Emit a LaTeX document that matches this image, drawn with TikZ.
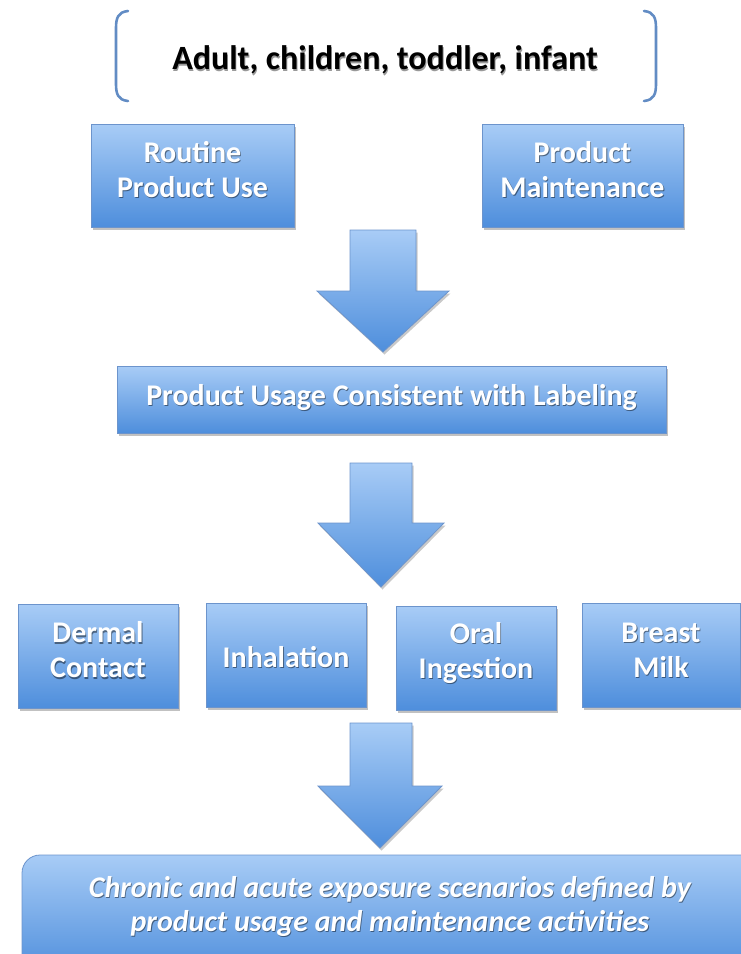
\documentclass[tikz,border=0pt]{standalone}
\usepackage{fontspec}
\setmainfont{Carlito}
\usetikzlibrary{shadows}

\definecolor{boxtop}{RGB}{168,204,246}
\definecolor{boxbot}{RGB}{78,142,220}
\definecolor{boxline}{RGB}{108,148,204}
\definecolor{bracecol}{RGB}{98,140,196}

\tikzset{
  blockbox/.style={draw=boxline, line width=0.8pt, top color=boxtop, bottom color=boxbot,
    drop shadow={shadow xshift=1.5pt, shadow yshift=-2.5pt, opacity=0.35, fill=black!70},
    inner sep=0pt},
  boxtext/.style={text=white, font=\fontsize{30}{35}\selectfont\bfseries, align=center, inner sep=0pt},
  textshade/.style={text=black, opacity=0.45},
  blockarrow/.style={draw=boxline, line width=0.8pt, top color=boxtop, bottom color=boxbot,
    drop shadow={shadow xshift=1.5pt, shadow yshift=-2.5pt, opacity=0.3, fill=black!70}},
  bracket/.style={draw=bracecol, line width=2.6pt, line cap=round},
}

% box with white shaded label: name, centre, width, height, label offset, text
\newcommand\labelbox[6]{%
  \node[blockbox, minimum width=#3, minimum height=#4] (#1) at #2 {};
  \node[boxtext, textshade] (#1-sh) at ([shift={(0.8,#5+1.3)}]#1.center) {#6};
  \node[boxtext] (#1-t) at ([shift={(0,#5)}]#1.center) {#6};
}

\begin{document}
\begin{tikzpicture}[x=1pt,y=-1pt]
\useasboundingbox (0,0) rectangle (740,954);

% population bracket
\draw[bracket] (128,11) .. controls (118,12) and (116,18) .. (116,28) -- (116,84)
  .. controls (116,94) and (118,100) .. (128,101);
\draw[bracket] (644,11) .. controls (654,12) and (656,18) .. (656,28) -- (656,84)
  .. controls (656,94) and (654,100) .. (644,101);
\node[font=\fontsize{34}{40}\selectfont\bfseries, text=black!40, inner sep=0pt] (pop-sh) at (385.8,61.5) {Adult, children, toddler, infant};
\node[font=\fontsize{34}{40}\selectfont\bfseries, inner sep=0pt] (pop) at (385,60) {Adult, children, toddler, infant};

% activity boxes
\labelbox{routine}{(192.5,175.5)}{203pt}{103pt}{-6}{Routine\\Product Use}
\labelbox{maint}{(582.5,175.5)}{201pt}{103pt}{-6}{Product\\Maintenance}

% arrow 1
\path[blockarrow] (350,230) -- (416,230) -- (416,291) -- (449,291) -- (383,352)
  -- (317,291) -- (350,291) -- cycle;

\labelbox{label}{(391.5,399.5)}{549pt}{67pt}{-2}{Product Usage Consistent with Labeling}

% arrow 2
\path[blockarrow] (350,463) -- (412,463) -- (412,523) -- (444,523) -- (381,587)
  -- (318,523) -- (350,523) -- cycle;

% exposure routes
\labelbox{dermal}{(98,656)}{160pt}{104pt}{-6}{Dermal\\Contact}
\labelbox{inhal}{(286,655)}{160pt}{104pt}{2}{Inhalation}
\labelbox{oral}{(476,658)}{160pt}{104pt}{-5}{Oral\\Ingestion}
\labelbox{milk}{(661,655)}{158pt}{104pt}{-5}{Breast\\Milk}

% arrow 3
\path[blockarrow] (350,723) -- (412,723) -- (412,786) -- (442,786) -- (380,848)
  -- (318,786) -- (350,786) -- cycle;

% scenarios box, running off the lower right edge
\node[blockbox, rounded corners=18pt, minimum width=760pt, minimum height=120pt] (scen) at (402,915) {};
\node[boxtext, textshade, font=\fontsize{30}{34}\selectfont\bfseries\itshape] (scen-sh) at (390.8,907.3)
  {Chronic and acute exposure scenarios defined by\\product usage and maintenance activities};
\node[boxtext, font=\fontsize{30}{34}\selectfont\bfseries\itshape] (scen-t) at (390,906)
  {Chronic and acute exposure scenarios defined by\\product usage and maintenance activities};
\end{tikzpicture}
\end{document}
